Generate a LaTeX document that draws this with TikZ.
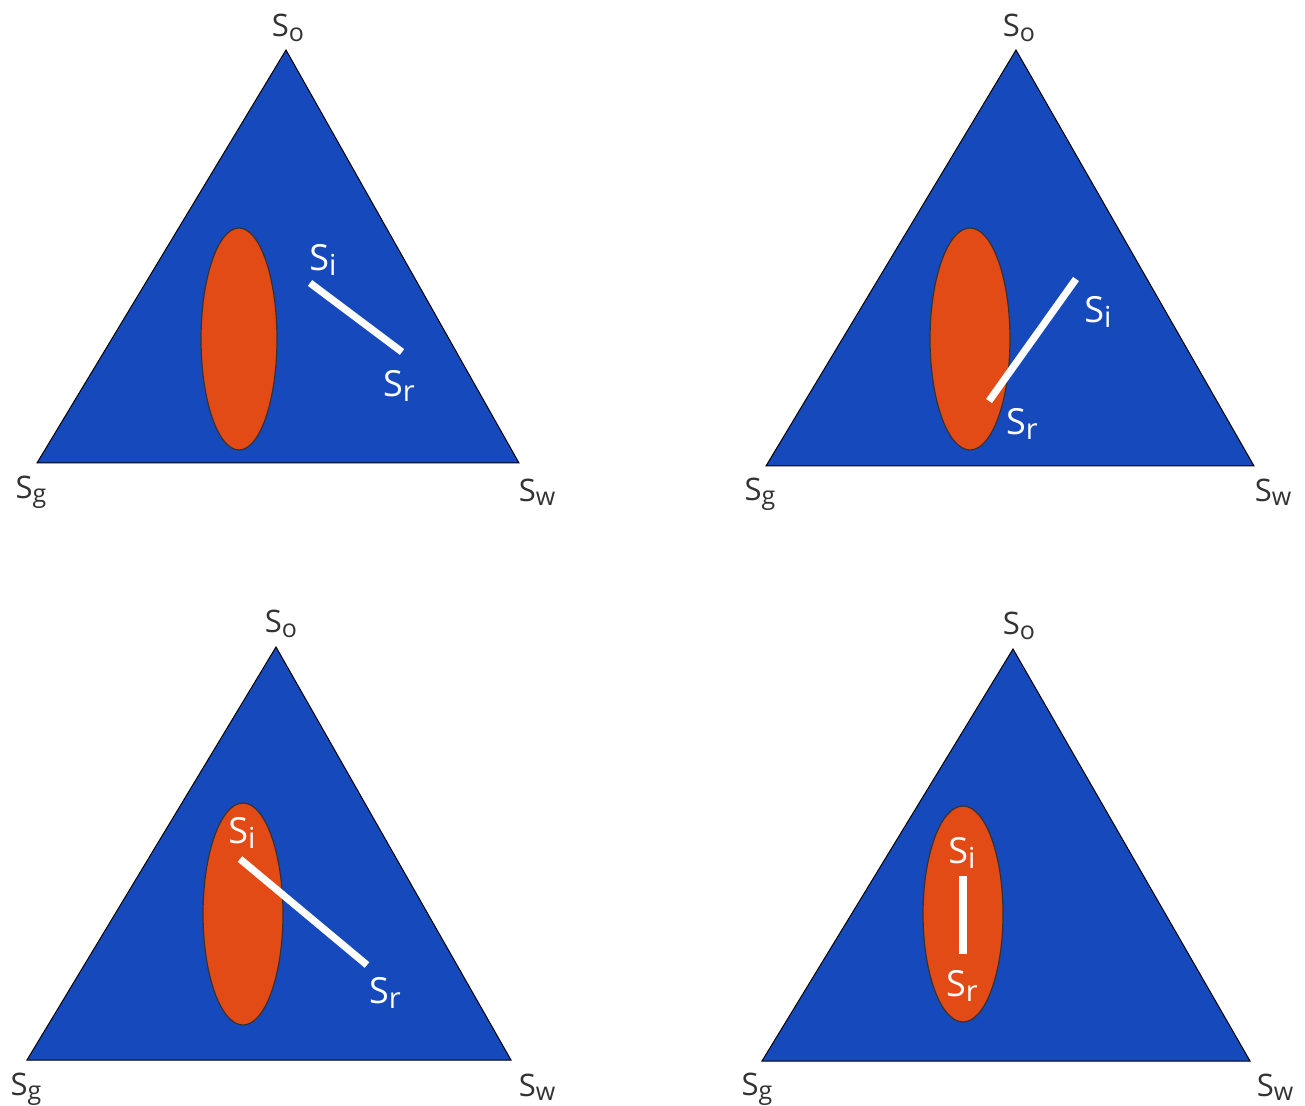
\documentclass[tikz,border=0pt]{standalone}
\usepackage{fontspec}
\setmainfont{Open Sans}
\definecolor{triblue}{RGB}{22,74,188}
\definecolor{ellred}{RGB}{226,74,22}
\newcommand{\blab}[1]{{\fontsize{15.5}{16}\selectfont S\raisebox{-2.2pt}{\fontsize{12.5}{13}\selectfont #1}}}
\newcommand{\wlab}[1]{{\fontsize{18}{19}\selectfont S\raisebox{-2.5pt}{\fontsize{14.5}{15}\selectfont #1}}}
\tikzset{
  tri/.style={fill=triblue,draw=black,line width=0.5pt,line join=miter},
  ell/.style={fill=ellred,draw=black!80,line width=0.6pt},
  path/.style={draw=white,line width=3.6pt},
  blk/.style={inner sep=0pt,text=black!80},
  wht/.style={inner sep=0pt,text=white},
}
\begin{document}
\begin{tikzpicture}[x=0.5pt,y=-0.5pt]
\useasboundingbox[fill=white] (0,0) rectangle (1305,1106);
% ---------- panel 1
\draw[tri] (286,50) -- (519,463) -- (37,463) -- cycle;
\draw[ell] (239,339) ellipse[x radius=38,y radius=111];
\coordinate (i1) at (310,283);
\coordinate (r1) at (402,352);
\draw[path] (i1) -- (r1);
\node[blk] (o1) at (288,28) {\blab{o}};
\node[blk] (g1) at (31,492) {\blab{g}};
\node[blk] (w1) at (537,492) {\blab{w}};
\node[wht] (si1) at (323,260) {\wlab{i}};
\node[wht] (sr1) at (399,386) {\wlab{r}};
% ---------- panel 2
\draw[tri] (1016,50) -- (1254,466) -- (766,466) -- cycle;
\draw[ell] (970,339) ellipse[x radius=40,y radius=111];
\coordinate (i2) at (1076,279);
\coordinate (r2) at (989,401);
\draw[path] (i2) -- (r2);
\node[blk] (o2) at (1019,28) {\blab{o}};
\node[blk] (g2) at (760,494) {\blab{g}};
\node[blk] (w2) at (1273,492) {\blab{w}};
\node[wht] (si2) at (1098,312) {\wlab{i}};
\node[wht] (sr2) at (1022,424) {\wlab{r}};
% ---------- panel 3
\draw[tri] (276,647) -- (511,1060) -- (27,1060) -- cycle;
\draw[ell] (243,914) ellipse[x radius=40,y radius=111];
\coordinate (i3) at (240,859);
\coordinate (r3) at (367,965);
\draw[path] (i3) -- (r3);
\node[blk] (o3) at (281,624) {\blab{o}};
\node[blk] (g3) at (26,1089) {\blab{g}};
\node[blk] (w3) at (537,1087) {\blab{w}};
\node[wht] (si3) at (242,833) {\wlab{i}};
\node[wht] (sr3) at (385,993) {\wlab{r}};
% ---------- panel 4
\draw[tri] (1013,649) -- (1250,1061) -- (762,1061) -- cycle;
\draw[ell] (963,914) ellipse[x radius=40,y radius=108];
\coordinate (i4) at (963,876);
\coordinate (r4) at (963,954);
\draw[path] (i4) -- (r4);
\node[blk] (o4) at (1019,626) {\blab{o}};
\node[blk] (g4) at (757,1089) {\blab{g}};
\node[blk] (w4) at (1275,1087) {\blab{w}};
\node[wht] (si4) at (962,853) {\wlab{i}};
\node[wht] (sr4) at (962,986) {\wlab{r}};
\end{tikzpicture}
\end{document}
